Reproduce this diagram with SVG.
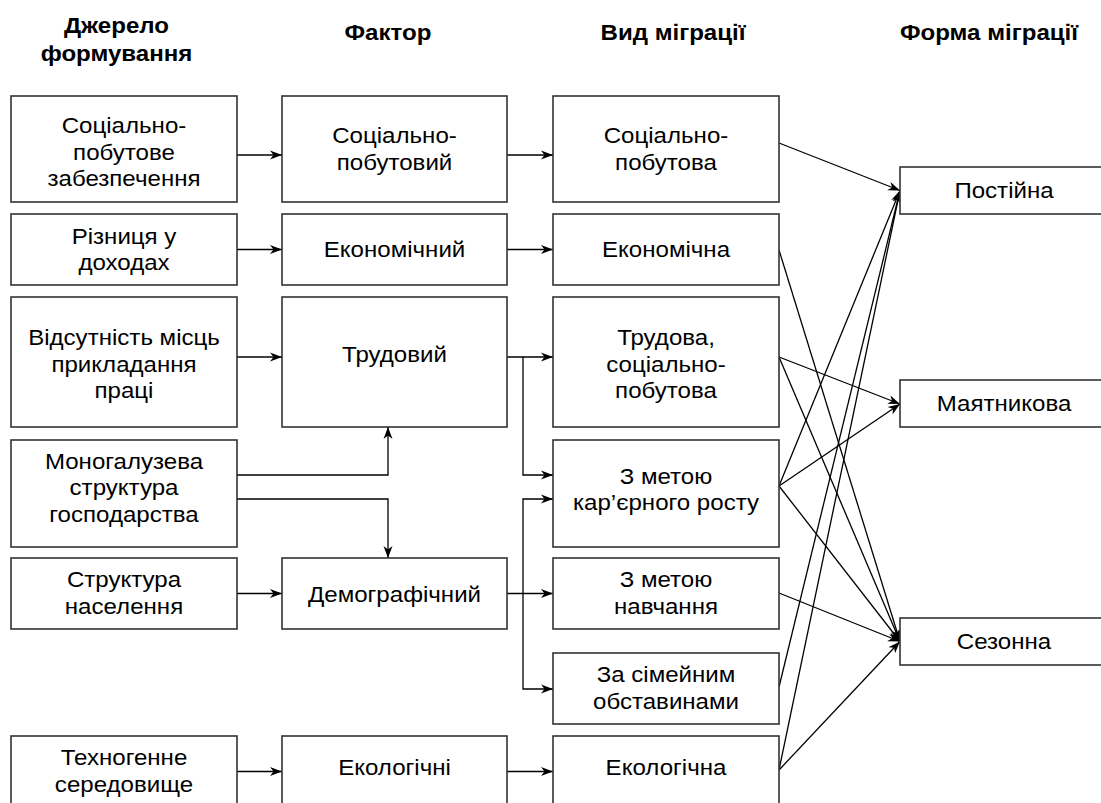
<svg xmlns="http://www.w3.org/2000/svg" width="1101" height="803" viewBox="0 0 1101 803">
<style>
  .box { fill: #ffffff; stroke: #333333; stroke-width: 1.6; }
  .t { font-family: "Liberation Sans", Arial, sans-serif; font-size: 22.5px; fill: #000000; text-anchor: middle; }
  .h { font-family: "Liberation Sans", Arial, sans-serif; font-size: 22.5px; font-weight: bold; fill: #000000; text-anchor: middle; }
  .c { fill: none; stroke: #000000; stroke-width: 1.3; }
  .a { marker-end: url(#arr); }
</style>
<defs>
  <marker id="arr" markerUnits="userSpaceOnUse" markerWidth="13" markerHeight="10" refX="12" refY="5" orient="auto">
    <path d="M0,0.5 L12,5 L0,9.5 L3.5,5 Z" fill="#000000"/>
  </marker>
</defs>
<rect width="1101" height="803" fill="#ffffff"/>

<g id="headers">
  <text class="h" transform="translate(116.5 33) scale(1.07 1)">Джерело</text>
  <text class="h" transform="translate(116.5 61) scale(1.07 1)">формування</text>
  <text class="h" transform="translate(388 40) scale(1.07 1)">Фактор</text>
  <text class="h" transform="translate(673 40) scale(1.07 1)">Вид міграції</text>
  <text class="h" transform="translate(989 40) scale(1.07 1)">Форма міграції</text>
</g>

<g id="connectors">
  <path class="c a" d="M237,155 H282"/>
  <path class="c a" d="M237,249.5 H282"/>
  <path class="c a" d="M237,357 H282"/>
  <path class="c a" d="M237,475 H388 V427"/>
  <path class="c a" d="M237,499 H388 V558"/>
  <path class="c a" d="M237,593.5 H282"/>
  <path class="c a" d="M237,771.5 H282"/>
  <path class="c a" d="M507,155 H553"/>
  <path class="c a" d="M507,249.5 H553"/>
  <path class="c a" d="M507,357 H553"/>
  <path class="c a" d="M523,357 V475 H553"/>
  <path class="c a" d="M507,593.5 H553"/>
  <path class="c a" d="M523,593.5 V499 H553"/>
  <path class="c a" d="M523,593.5 V689 H553"/>
  <path class="c a" d="M507,771.5 H553"/>
  <path class="c a" d="M779,143 L900,190.5"/>
  <path class="c a" d="M779,250 L900,641.5"/>
  <path class="c a" d="M779,357 L900,404"/>
  <path class="c a" d="M779,357 L900,641.5"/>
  <path class="c a" d="M779,486 L900,190.5"/>
  <path class="c a" d="M779,486 L900,404"/>
  <path class="c a" d="M779,486 L900,641.5"/>
  <path class="c a" d="M779,593 L900,641.5"/>
  <path class="c a" d="M779,687 L900,190.5"/>
  <path class="c a" d="M779,770 L900,190.5"/>
  <path class="c a" d="M779,770 L900,641.5"/>
</g>

<g id="src1"><rect class="box" x="11" y="96" width="226" height="106"/>
  <text class="t" transform="translate(124 133) scale(1.07 1)">Соціально-</text><text class="t" transform="translate(124 159.5) scale(1.07 1)">побутове</text><text class="t" transform="translate(124 186) scale(1.07 1)">забезпечення</text></g>
<g id="src2"><rect class="box" x="11" y="214" width="226" height="71"/>
  <text class="t" transform="translate(124 243.5) scale(1.07 1)">Різниця у</text><text class="t" transform="translate(124 270) scale(1.07 1)">доходах</text></g>
<g id="src3"><rect class="box" x="11" y="297" width="226" height="130"/>
  <text class="t" transform="translate(124 345) scale(1.07 1)">Відсутність місць</text><text class="t" transform="translate(124 371.5) scale(1.07 1)">прикладання</text><text class="t" transform="translate(124 398) scale(1.07 1)">праці</text></g>
<g id="src4"><rect class="box" x="11" y="440" width="226" height="107"/>
  <text class="t" transform="translate(124 468.5) scale(1.07 1)">Моногалузева</text><text class="t" transform="translate(124 495) scale(1.07 1)">структура</text><text class="t" transform="translate(124 521.5) scale(1.07 1)">господарства</text></g>
<g id="src5"><rect class="box" x="11" y="558" width="226" height="71"/>
  <text class="t" transform="translate(124 587) scale(1.07 1)">Структура</text><text class="t" transform="translate(124 614) scale(1.07 1)">населення</text></g>
<g id="src6"><rect class="box" x="11" y="736" width="226" height="90"/>
  <text class="t" transform="translate(124 765) scale(1.07 1)">Техногенне</text><text class="t" transform="translate(124 791.5) scale(1.07 1)">середовище</text></g>

<g id="fac1"><rect class="box" x="282" y="96" width="225" height="106"/>
  <text class="t" transform="translate(394.5 143) scale(1.07 1)">Соціально-</text><text class="t" transform="translate(394.5 170) scale(1.07 1)">побутовий</text></g>
<g id="fac2"><rect class="box" x="282" y="214" width="225" height="71"/>
  <text class="t" transform="translate(394.5 257) scale(1.07 1)">Економічний</text></g>
<g id="fac3"><rect class="box" x="282" y="297" width="225" height="130"/>
  <text class="t" transform="translate(394.5 362) scale(1.07 1)">Трудовий</text></g>
<g id="fac4"><rect class="box" x="282" y="558" width="225" height="71"/>
  <text class="t" transform="translate(394.5 601.5) scale(1.07 1)">Демографічний</text></g>
<g id="fac5"><rect class="box" x="282" y="736" width="225" height="90"/>
  <text class="t" transform="translate(394.5 775) scale(1.07 1)">Екологічні</text></g>

<g id="typ1"><rect class="box" x="553" y="96" width="226" height="106"/>
  <text class="t" transform="translate(666 143) scale(1.07 1)">Соціально-</text><text class="t" transform="translate(666 170) scale(1.07 1)">побутова</text></g>
<g id="typ2"><rect class="box" x="553" y="214" width="226" height="71"/>
  <text class="t" transform="translate(666 257) scale(1.07 1)">Економічна</text></g>
<g id="typ3"><rect class="box" x="553" y="297" width="226" height="130"/>
  <text class="t" transform="translate(666 345) scale(1.07 1)">Трудова,</text><text class="t" transform="translate(666 371.5) scale(1.07 1)">соціально-</text><text class="t" transform="translate(666 398) scale(1.07 1)">побутова</text></g>
<g id="typ4"><rect class="box" x="553" y="440" width="226" height="107"/>
  <text class="t" transform="translate(666 483.5) scale(1.07 1)">З метою</text><text class="t" transform="translate(666 510) scale(1.07 1)">кар’єрного росту</text></g>
<g id="typ5"><rect class="box" x="553" y="558" width="226" height="71"/>
  <text class="t" transform="translate(666 587) scale(1.07 1)">З метою</text><text class="t" transform="translate(666 614) scale(1.07 1)">навчання</text></g>
<g id="typ6"><rect class="box" x="553" y="653" width="226" height="71"/>
  <text class="t" transform="translate(666 682) scale(1.07 1)">За сімейним</text><text class="t" transform="translate(666 708.5) scale(1.07 1)">обставинами</text></g>
<g id="typ7"><rect class="box" x="553" y="736" width="226" height="90"/>
  <text class="t" transform="translate(666 775) scale(1.07 1)">Екологічна</text></g>

<g id="form1"><rect class="box" x="900" y="167" width="220" height="47"/>
  <text class="t" transform="translate(1004 197.5) scale(1.07 1)">Постійна</text></g>
<g id="form2"><rect class="box" x="900" y="380" width="220" height="47"/>
  <text class="t" transform="translate(1004 411) scale(1.07 1)">Маятникова</text></g>
<g id="form3"><rect class="box" x="900" y="618" width="220" height="47"/>
  <text class="t" transform="translate(1004 648.5) scale(1.07 1)">Сезонна</text></g>
</svg>
